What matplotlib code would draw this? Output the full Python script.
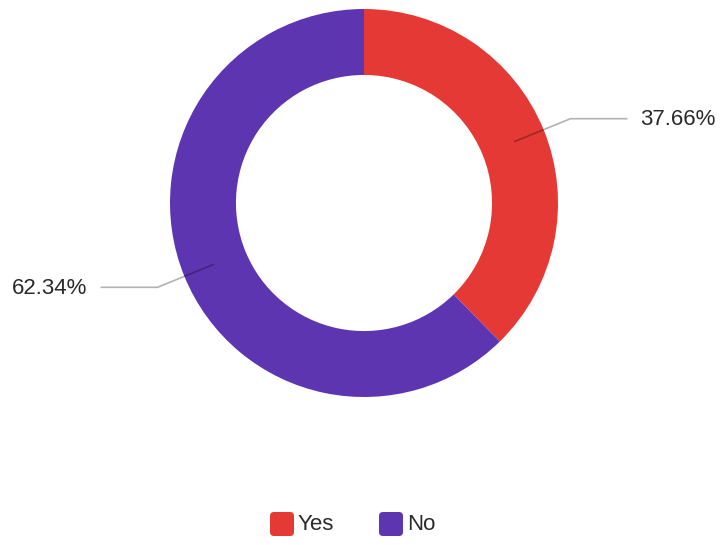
import numpy as np
import matplotlib
matplotlib.use("Agg")
import matplotlib.pyplot as plt
from matplotlib.patches import FancyBboxPatch

categories = ["Yes", "No"]
shares = [37.66, 62.34]
colors = ["#E53935", "#5E35B1"]

W, H = 722, 545
plt.rcParams["font.family"] = ["Liberation Sans", "DejaVu Sans"]

fig = plt.figure(figsize=(W / 100, H / 100), dpi=100)
ax = fig.add_axes([0, 0, 1, 1])

cx, cy = 364, H - 203
R = 194
ring = 0.34

wedges, _ = ax.pie(shares, colors=colors, startangle=90, counterclock=False,
                   radius=R, center=(cx, cy), frame=False,
                   wedgeprops=dict(width=R * ring, linewidth=0))
ax.set_xlim(0, W)
ax.set_ylim(0, H)
ax.set_aspect("equal")
ax.axis("off")

# Leader lines and percentage labels
for w, val in zip(wedges, shares):
    mid = np.deg2rad((w.theta1 + w.theta2) / 2)
    dx, dy = np.cos(mid), np.sin(mid)
    x0, y0 = cx + 162 * dx, cy + 162 * dy
    x1, y1 = cx + 223 * dx, cy + 223 * dy
    side = 1 if dx > 0 else -1
    x2 = x1 + side * 57
    ax.plot([x0, x1, x2], [y0, y1, y1], color="black", alpha=0.3, lw=1.2,
            solid_capstyle="butt")
    ax.text(x2 + side * 13, y1 - 1, f"{val:.2f}%", ha="left" if side > 0 else "right",
            va="center", fontsize=16, color="#2a2a2a")

# Legend with rounded swatches
ly = H - 524
lx = 270
for name, c in zip(categories, colors):
    ax.add_patch(FancyBboxPatch((lx + 3, ly - 9), 18, 18,
                                boxstyle="round,pad=3,rounding_size=4",
                                facecolor=c, edgecolor="none"))
    ax.text(lx + 28, ly - 1, name, ha="left", va="center", fontsize=16,
            color="#2a2a2a")
    lx += 109

fig.savefig("out.png", dpi=100)
